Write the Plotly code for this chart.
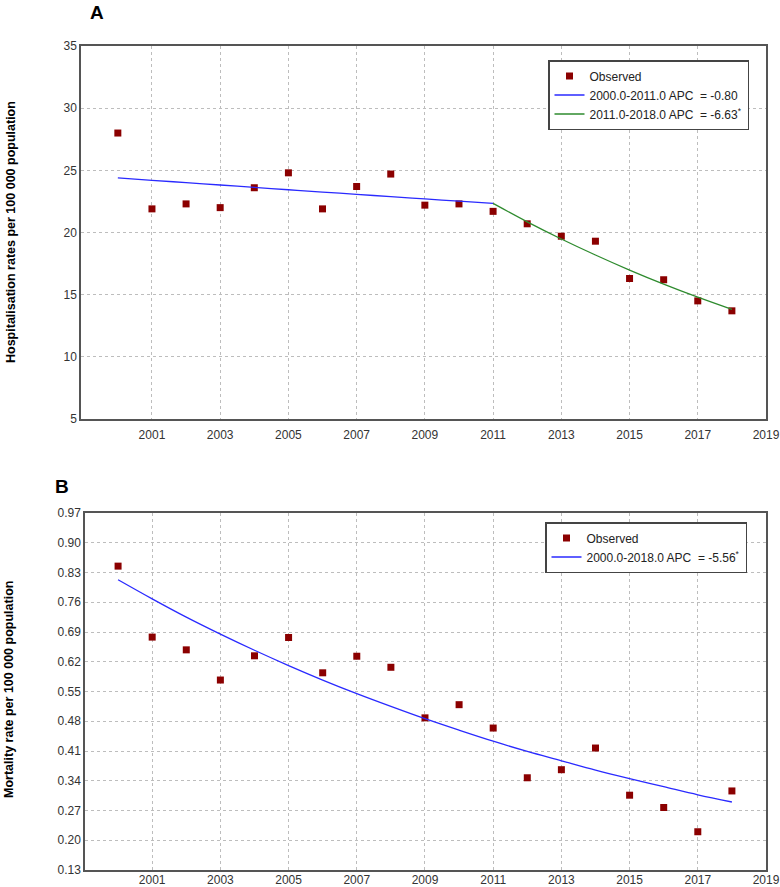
import plotly.graph_objects as go

years = list(range(2000, 2019))

# Panel A: hospitalisation rates (observed)
hosp_obs = [28.0, 21.9, 22.3, 22.0, 23.6, 24.8, 21.9, 23.7, 24.7, 22.2,
            22.3, 21.7, 20.7, 19.7, 19.3, 16.3, 16.2, 14.5, 13.7]
# Panel A: fitted segments
seg1_years = list(range(2000, 2012))
seg1_fit = [24.40, 24.20, 24.01, 23.82, 23.63, 23.44, 23.25, 23.07, 22.88, 22.70, 22.52, 22.34]
seg2_years = list(range(2011, 2019))
seg2_fit = [22.34, 20.86, 19.48, 18.19, 16.98, 15.85, 14.80, 13.82]

# Panel B: mortality rate (observed)
mort_obs = [0.845, 0.678, 0.648, 0.577, 0.634, 0.677, 0.594, 0.633, 0.607, 0.488,
            0.519, 0.464, 0.347, 0.366, 0.417, 0.306, 0.277, 0.220, 0.316]
mort_fit = [0.813, 0.768, 0.725, 0.685, 0.647, 0.611, 0.577, 0.545, 0.515, 0.486,
            0.459, 0.433, 0.409, 0.387, 0.365, 0.345, 0.326, 0.307, 0.290]

x_ticks = list(range(2001, 2020, 2))
yA_ticks = [5, 10, 15, 20, 25, 30, 35]
yB_ticks = [0.13, 0.20, 0.27, 0.34, 0.41, 0.48, 0.55, 0.62, 0.69, 0.76, 0.83, 0.90, 0.97]

RED = "#8b0000"
BLUE = "#2a2aff"
GREEN = "#2e8b2e"
FONT = "Liberation Sans, Arial, sans-serif"

fig = go.Figure()

fig.add_trace(go.Scatter(x=years, y=hosp_obs, mode="markers", name="Observed",
                         marker=dict(symbol="square", size=7, color=RED),
                         xaxis="x", yaxis="y", legend="legend"))
fig.add_trace(go.Scatter(x=seg1_years, y=seg1_fit, mode="lines",
                         name="2000.0-2011.0 APC\u00a0 = -0.80",
                         line=dict(color=BLUE, width=1.3, shape="spline"),
                         xaxis="x", yaxis="y", legend="legend"))
fig.add_trace(go.Scatter(x=seg2_years, y=seg2_fit, mode="lines",
                         name="2011.0-2018.0 APC\u00a0 = -6.63<sup>*</sup>",
                         line=dict(color=GREEN, width=1.3, shape="spline"),
                         xaxis="x", yaxis="y", legend="legend"))

fig.add_trace(go.Scatter(x=years, y=mort_obs, mode="markers", name="Observed",
                         marker=dict(symbol="square", size=7, color=RED),
                         xaxis="x2", yaxis="y2", legend="legend2"))
fig.add_trace(go.Scatter(x=years, y=mort_fit, mode="lines",
                         name="2000.0-2018.0 APC\u00a0 = -5.56<sup>*</sup>",
                         line=dict(color=BLUE, width=1.3, shape="spline"),
                         xaxis="x2", yaxis="y2", legend="legend2"))

W, H = 780, 887

def px_x(p):
    return p / W

def px_y(p):
    return 1 - p / H

axis_common = dict(showline=True, mirror=True, linecolor="#555555", linewidth=1.5,
                   showgrid=True, gridcolor="#bdbdbd", griddash="dot", gridwidth=1,
                   zeroline=False, ticks="", automargin=False,
                   tickfont=dict(family=FONT, size=12, color="#333333"))

fig.update_layout(
    width=W, height=H,
    margin=dict(l=0, r=0, t=0, b=0, autoexpand=False),
    paper_bgcolor="white", plot_bgcolor="white",
    font=dict(family=FONT, color="#222222"),
    xaxis=dict(domain=[px_x(81), px_x(766)], range=[1998.92, 2019], anchor="y",
               tickvals=x_ticks, ticklabelstandoff=4, **axis_common),
    yaxis=dict(domain=[px_y(419), px_y(46)], range=[5, 35], anchor="x",
               tickvals=yA_ticks, **axis_common),
    xaxis2=dict(domain=[px_x(85), px_x(766)], range=[1999.03, 2019], anchor="y2",
                tickvals=x_ticks, ticklabelstandoff=-2, **axis_common),
    yaxis2=dict(domain=[px_y(870), px_y(513)], range=[0.13, 0.97], anchor="x2",
                tickvals=yB_ticks, tickformat=".2f", **axis_common),
    legend=dict(x=px_x(548), y=px_y(60), xanchor="left", yanchor="top",
                bgcolor="white", bordercolor="#444444", borderwidth=1.5,
                font=dict(family=FONT, size=12, color="#222222"),
                tracegroupgap=0, itemwidth=30),
    legend2=dict(x=px_x(545), y=px_y(522), xanchor="left", yanchor="top",
                 bgcolor="white", bordercolor="#444444", borderwidth=1.5,
                 font=dict(family=FONT, size=12, color="#222222"),
                 tracegroupgap=0, itemwidth=30),
    annotations=[
        dict(text="<b>A</b>", x=px_x(97), y=px_y(13), xref="paper", yref="paper",
             xanchor="center", yanchor="middle",
             showarrow=False, font=dict(family=FONT, size=19, color="black")),
        dict(text="<b>B</b>", x=px_x(62), y=px_y(487), xref="paper", yref="paper",
             xanchor="center", yanchor="middle",
             showarrow=False, font=dict(family=FONT, size=19, color="black")),
        dict(text="<b>Hospitalisation rates per 100 000 population</b>",
             x=px_x(11), y=px_y(232), xref="paper", yref="paper", textangle=-90,
             xanchor="center", yanchor="middle",
             showarrow=False, font=dict(family=FONT, size=12.5, color="black")),
        dict(text="<b>Mortality rate per 100 000 population</b>",
             x=px_x(9), y=px_y(690), xref="paper", yref="paper", textangle=-90,
             xanchor="center", yanchor="middle",
             showarrow=False, font=dict(family=FONT, size=12.5, color="black")),
    ],
)

# remove the default page margin so the figure sits at the window's top-left corner
fig.write_html("out.html",
               config={"displayModeBar": False},
               post_script="document.body.style.margin='0';document.body.style.overflow='hidden';")
